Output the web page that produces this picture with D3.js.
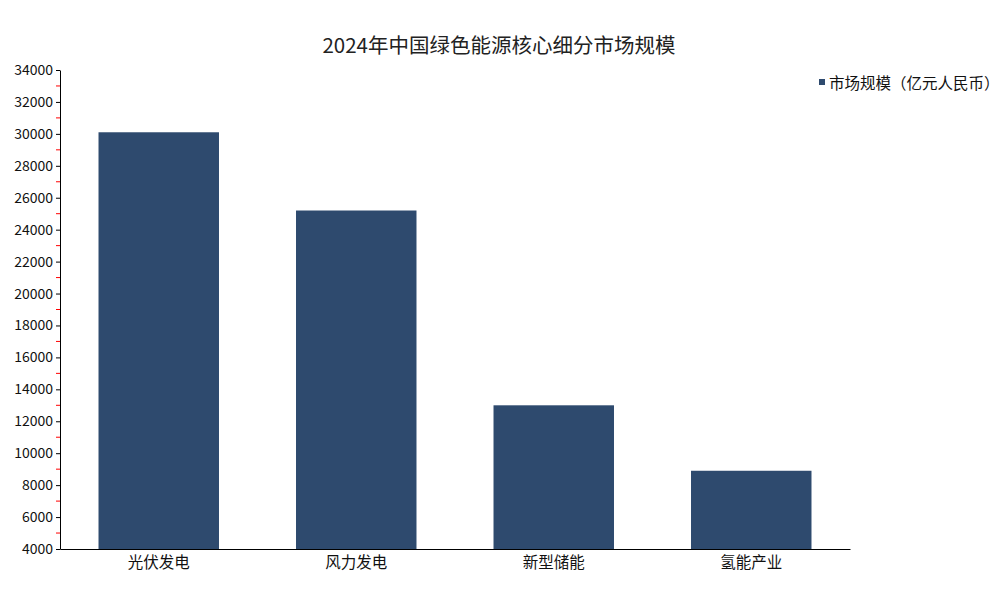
<!DOCTYPE html>
<html><head><meta charset="utf-8">
<script src="https://cdn.jsdelivr.net/npm/d3@7"></script>
<style>body{margin:0;background:#fff}text{font-family:"Noto Sans CJK SC",sans-serif}</style>
</head><body><svg id="c" width="1000" height="600"></svg>
<script>
var categories = ["光伏发电", "风力发电", "新型储能", "氢能产业"];
var values = [30100, 25200, 13000, 8900];
var seriesName = "市场规模（亿元人民币）";
var yTicks = d3.range(4000, 34001, 2000);
var minorTicks = d3.range(5000, 34000, 2000);

var svg = d3.select("#c");
var x = d3.scaleBand().domain(categories).range([60, 850]).paddingInner(0.39).paddingOuter(0.195);
var y = d3.scaleLinear().domain([4000, 34000]).range([549, 70]);

svg.append("text").attr("x", 499).attr("y", 53).attr("text-anchor", "middle")
  .attr("font-size", 20.5).attr("fill", "#222").text("2024年中国绿色能源核心细分市场规模");

svg.selectAll(".bar").data(values).enter().append("rect")
  .attr("x", function(d, i){ return x(categories[i]); })
  .attr("y", function(d){ return y(d); })
  .attr("width", x.bandwidth())
  .attr("height", function(d){ return y(4000) - y(d); })
  .attr("fill", "#2e4a6e");

var ya = svg.append("g").attr("transform", "translate(60,0)")
  .call(d3.axisLeft(y).tickValues(yTicks).tickFormat(d3.format("d")).tickSize(4).tickSizeOuter(0));
ya.select(".domain").attr("stroke", "#000");
ya.selectAll("text").attr("font-size", 14).attr("fill", "#111").attr("font-family", "Liberation Sans, sans-serif");

svg.selectAll(".minor").data(minorTicks).enter().append("line")
  .attr("x1", 56).attr("x2", 60)
  .attr("y1", function(d){ return y(d); }).attr("y2", function(d){ return y(d); })
  .attr("stroke", "red");

var xa = svg.append("g").attr("transform", "translate(0,549)")
  .call(d3.axisBottom(x).tickSize(0).tickSizeOuter(0));
xa.select(".domain").attr("stroke", "#000");
xa.selectAll("text").attr("font-size", 15.5).attr("fill", "#111").attr("dy", "1.05em");

svg.append("rect").attr("x", 819).attr("y", 79).attr("width", 6).attr("height", 6).attr("fill", "#2e4a6e");
svg.append("text").attr("x", 829).attr("y", 89).attr("font-size", 15.5).attr("fill", "#111").text(seriesName);
</script></body></html>
